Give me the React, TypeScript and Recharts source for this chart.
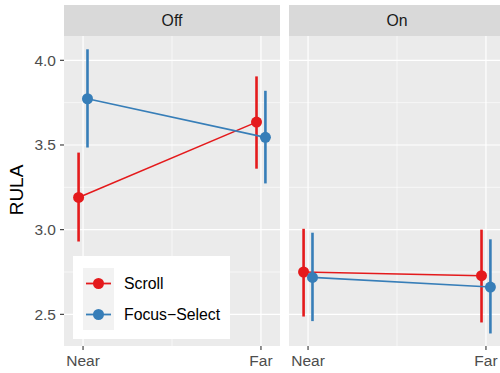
import { CartesianGrid, ErrorBar, Line, LineChart, XAxis, YAxis } from 'recharts';

const panels = ['Off', 'On'];
const conditions = ['Near', 'Far'];
const conditionPos = [1, 2];
const yTicks = [2.5, 3.0, 3.5, 4.0];
const yMinor = [2.75, 3.25, 3.75];
const xMinor = [1.5];

const seriesNames = ['Scroll', 'Focus\u2212Select'];
const seriesColors = ['#E41A1C', '#377EB8'];
const dodge = [-0.025, 0.025];

// rows: panel (Off, On), columns: condition (Near, Far)
const scrollMean = [[3.19, 3.635], [2.75, 2.728]];
const scrollLow = [[2.93, 3.36], [2.487, 2.452]];
const scrollHigh = [[3.455, 3.905], [3.005, 3.0]];
const focusMean = [[3.773, 3.545], [2.718, 2.661]];
const focusLow = [[3.485, 3.273], [2.46, 2.387]];
const focusHigh = [[4.065, 3.82], [2.982, 2.943]];

const means = [scrollMean, focusMean];
const lows = [scrollLow, focusLow];
const highs = [scrollHigh, focusHigh];

const FONT = '"Liberation Sans", Arial, Helvetica, sans-serif';
const PANEL_LEFT = [0, 289];
const PANEL_W = 216;
const Y_AXIS_W = 64;
const TOP = 36;
const CHART_H = 337;
const TICK_FONT = 15.5;
const TEXT_FONT = 15.8;

function rowsFor(series: number, panel: number) {
  return conditions.map((_, i) => {
    const m = means[series][panel][i];
    return {
      x: conditionPos[i] + dodge[series],
      y: m,
      err: [m - lows[series][panel][i], highs[series][panel][i] - m],
    };
  });
}

function Panel({ index }: { index: number }) {
  const withAxis = index === 0;
  return (
    <LineChart
      width={withAxis ? PANEL_W + Y_AXIS_W : PANEL_W}
      height={CHART_H}
      margin={{ top: 0, right: 0, bottom: 0, left: 0 }}
    >
      <CartesianGrid
        horizontalValues={yTicks}
        verticalValues={conditionPos}
        stroke="#ffffff"
        strokeWidth={1.2}
        fill="#ebebeb"
        fillOpacity={1}
      />
      <CartesianGrid horizontalValues={yMinor} verticalValues={xMinor} stroke="#ffffff" strokeWidth={0.6} />
      <XAxis
        type="number"
        dataKey="x"
        domain={[0.893, 2.107]}
        allowDataOverflow
        ticks={conditionPos}
        tickFormatter={(v: number) => conditions[conditionPos.indexOf(v)] ?? ''}
        height={27}
        tickSize={4}
        tickMargin={5}
        axisLine={false}
        tickLine={{ stroke: '#333333', strokeWidth: 1.1 }}
        tick={{ fill: '#4d4d4d', fontSize: TICK_FONT }}
      />
      <YAxis
        type="number"
        hide={!withAxis}
        width={Y_AXIS_W}
        domain={[2.313, 4.1435]}
        allowDataOverflow
        ticks={yTicks}
        tickFormatter={(v: number) => v.toFixed(1)}
        tickSize={4}
        tickMargin={4}
        axisLine={false}
        tickLine={{ stroke: '#333333', strokeWidth: 1.1 }}
        tick={{ fill: '#4d4d4d', fontSize: TICK_FONT }}
      />
      {seriesNames.map((name, s) => (
        <Line
          key={name}
          name={name}
          data={rowsFor(s, index)}
          dataKey="y"
          type="linear"
          stroke={seriesColors[s]}
          strokeWidth={1.6}
          dot={{ r: 5.5, fill: seriesColors[s], stroke: seriesColors[s], strokeWidth: 0 }}
          activeDot={false}
          isAnimationActive={false}
        >
          <ErrorBar dataKey="err" direction="y" width={0} stroke={seriesColors[s]} strokeWidth={2.6} />
        </Line>
      ))}
    </LineChart>
  );
}

export default function App() {
  return (
    <div style={{ position: 'relative', width: 500, height: 373, overflow: 'hidden', background: '#fff', fontFamily: FONT }}>
      <style>{'body{margin:0}'}</style>
      {panels.map((p, i) => (
        <div
          key={p}
          style={{
            position: 'absolute',
            left: PANEL_LEFT[i] + (i === 0 ? Y_AXIS_W : 0),
            top: 5,
            width: PANEL_W,
            height: 31,
            background: '#d9d9d9',
            color: '#1a1a1a',
            fontSize: TEXT_FONT,
            display: 'flex',
            alignItems: 'center',
            justifyContent: 'center',
          }}
        >
          {p}
        </div>
      ))}
      {panels.map((p, i) => (
        <div key={p} style={{ position: 'absolute', left: PANEL_LEFT[i], top: TOP }}>
          <Panel index={i} />
        </div>
      ))}
      <div
        style={{
          position: 'absolute',
          left: 17,
          top: 190,
          transform: 'translate(-50%, -50%) rotate(-90deg)',
          fontSize: 19,
          color: '#000',
          whiteSpace: 'nowrap',
        }}
      >
        RULA
      </div>
      <div style={{ position: 'absolute', left: 73, top: 256, width: 157, height: 83, background: '#fff' }}>
        <div style={{ position: 'absolute', left: 10, top: 12, width: 31, height: 62, background: '#f2f2f2' }} />
        {seriesNames.map((name, s) => (
          <div key={name} style={{ position: 'absolute', left: 10, top: 12 + s * 31, height: 31, display: 'flex', alignItems: 'center' }}>
            <svg width={31} height={31}>
              <line x1={3} x2={28} y1={15.5} y2={15.5} stroke={seriesColors[s]} strokeWidth={1.8} />
              <circle cx={15.5} cy={15.5} r={5.5} fill={seriesColors[s]} />
            </svg>
            <span style={{ marginLeft: 10, fontSize: TEXT_FONT, color: '#000', whiteSpace: 'nowrap' }}>{name}</span>
          </div>
        ))}
      </div>
    </div>
  );
}
